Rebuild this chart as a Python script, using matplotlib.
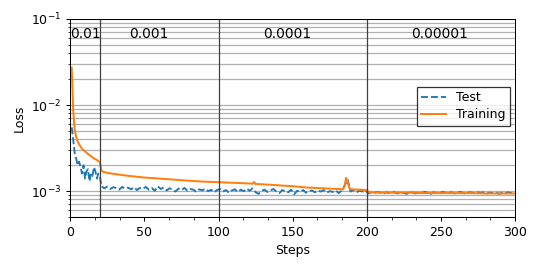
import matplotlib
matplotlib.use("Agg")
import matplotlib.pyplot as plt
from matplotlib.ticker import AutoMinorLocator, LogLocator, NullFormatter

# training loss (smooth curve, read at selected steps)
train_steps = [1, 2, 3, 4, 5, 6, 8, 10, 12, 14, 16, 18, 20, 21, 22, 25, 30, 40, 50, 60,
               70, 80, 90, 100, 110, 120, 123, 124, 125, 130, 140, 150, 160, 170, 180,
               184, 185, 186, 187, 188, 189, 190, 195, 200, 201, 202, 210, 220, 230, 240,
               250, 260, 270, 280, 290, 300]
train_loss = [0.0272, 0.0089, 0.0052, 0.0043, 0.0038, 0.0035, 0.0031, 0.0029, 0.0027,
              0.00255, 0.0024, 0.0023, 0.00217, 0.00175, 0.00168, 0.00163, 0.00158,
              0.00150, 0.00144, 0.00140, 0.00136, 0.00132, 0.00129, 0.00127, 0.00125,
              0.00123, 0.00122, 0.00128, 0.00121, 0.00120, 0.00117, 0.00114, 0.00110,
              0.00108, 0.00106, 0.00105, 0.00115, 0.00143, 0.00130, 0.00110, 0.00106,
              0.00105, 0.00104, 0.00103, 0.00099, 0.00097, 0.00096, 0.00096, 0.00096,
              0.00095, 0.00095, 0.00095, 0.00095, 0.00094, 0.00094, 0.00094]

# test loss (noisy)
test_steps = list(range(1, 21)) + list(range(21, 301, 2))
test_loss = [0.0055, 0.0040, 0.0028, 0.0024, 0.0020, 0.0022, 0.0019, 0.0016, 0.0020, 0.0014,
             0.0017, 0.0018, 0.0013, 0.0016, 0.0015, 0.0019, 0.0017, 0.0014, 0.0016, 0.0015,
             # 21..99
             0.00114, 0.00108, 0.00113, 0.00106, 0.00111, 0.00109, 0.00104, 0.00112, 0.00107,
             0.00110, 0.00105, 0.00111, 0.00103, 0.00109, 0.00107, 0.00112, 0.00104, 0.00109,
             0.00101, 0.00114, 0.00106, 0.00110, 0.00102, 0.00108, 0.00104, 0.00099, 0.00107,
             0.00103, 0.00109, 0.00101, 0.00106, 0.00104, 0.00098, 0.00105, 0.00102, 0.00107,
             0.00100, 0.00104, 0.00097, 0.00103,
             # 101..199
             0.00106, 0.00099, 0.00103, 0.00096, 0.00102, 0.00105, 0.00098, 0.00104, 0.00100,
             0.00107, 0.00101, 0.00108, 0.00097, 0.00093, 0.00101, 0.00104, 0.00098, 0.00102,
             0.00106, 0.00099, 0.00095, 0.00103, 0.00100, 0.00097, 0.00104, 0.00092, 0.00101,
             0.00098, 0.00103, 0.00096, 0.00100, 0.00102, 0.00097, 0.00101, 0.00099, 0.00103,
             0.00096, 0.00100, 0.00098, 0.00102, 0.00095, 0.00101, 0.00115, 0.00137, 0.00099,
             0.00103, 0.00097, 0.00101, 0.00099, 0.00102,
             # 201..299
             0.00094, 0.00097, 0.00095, 0.00098, 0.00096, 0.00093, 0.00097, 0.00095, 0.00099,
             0.00096, 0.00094, 0.00097, 0.00095, 0.00093, 0.00098, 0.00096, 0.00094, 0.00097,
             0.00095, 0.00098, 0.00096, 0.00093, 0.00097, 0.00095, 0.00094, 0.00098, 0.00096,
             0.00095, 0.00097, 0.00094, 0.00096, 0.00098, 0.00095, 0.00093, 0.00097, 0.00096,
             0.00094, 0.00097, 0.00095, 0.00098, 0.00094, 0.00096, 0.00095, 0.00097, 0.00093,
             0.00096, 0.00094, 0.00097, 0.00095, 0.00096]

lr_changes = [20, 100, 200]
lr_labels = ["0.01", "0.001", "0.0001", "0.00001"]
lr_label_x = [10.5, 53, 146, 249]

fig = plt.figure(figsize=(6, 3), dpi=90)
ax = fig.add_axes([0.13, 0.196, 0.824, 0.734])

ax.plot(test_steps, test_loss, "--", color="#1f77b4", lw=1.5, label="Test")
ax.plot(train_steps, train_loss, "-", color="#ff7f0e", lw=1.6, label="Training")

ax.set_yscale("log")
ax.set_ylim(5e-4, 1e-1)
ax.set_xlim(0, 300)
ax.set_xticks([0, 50, 100, 150, 200, 250, 300])
ax.xaxis.set_minor_locator(AutoMinorLocator(3))
ax.yaxis.set_minor_locator(LogLocator(base=10, subs=range(2, 10)))
ax.yaxis.set_minor_formatter(NullFormatter())
ax.grid(True, axis="y", which="both", color="#b0b0b0", lw=1.0)

for x in lr_changes:
    ax.axvline(x, color="#404040", lw=1.0)
for x, t in zip(lr_label_x, lr_labels):
    ax.text(x, 0.067, t, ha="center", va="center", fontsize=11)

ax.set_xlabel("Steps", fontsize=10)
ax.set_ylabel("Loss", fontsize=10)
ax.tick_params(labelsize=10)

ax.legend(loc="upper right", bbox_to_anchor=(0.989, 0.658), fancybox=False,
          edgecolor="black", fontsize=10, borderaxespad=0,
          borderpad=0.35, labelspacing=0.35)

fig.savefig("out.png", dpi=90)
